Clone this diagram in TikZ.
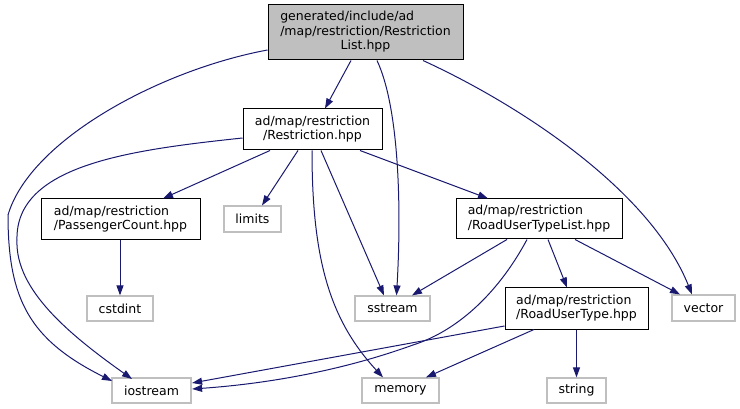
\documentclass[tikz,border=0pt]{standalone}
\usepackage{fontspec}
\setmainfont{DejaVu Sans}
\usepackage{tikz}
\usetikzlibrary{arrows.meta}
\usepackage{xcolor}
\definecolor{edgeblue}{HTML}{191970}
\definecolor{extgray}{HTML}{BFBFBF}
\newcommand{\lbl}[2]{\begin{tabular}{@{}l@{}}#1\\\multicolumn{1}{@{}c@{}}{#2}\end{tabular}}

\begin{document}
\begin{tikzpicture}[x=1pt,y=-1pt,
  every node/.style={font=\fontsize{12.5}{14.5}\selectfont,inner sep=0pt},
  hdr/.style={draw=black,line width=1pt},
  ext/.style={draw=extgray,fill=white,line width=1.2pt},
  inc/.style={draw=edgeblue,line width=1pt,-{Triangle[length=10pt,width=7pt]}}]
  \useasboundingbox (0,0) rectangle (740,409);
  % files
  \node[hdr,fill=extgray,minimum width=195,minimum height=55] (list) at (365.5,32.5)
    {\lbl{generated/include/ad\\/map/restriction/Restriction}{List.hpp}};
  \node[hdr,minimum width=139,minimum height=41] (restr) at (312.5,129.5)
    {\lbl{ad/map/restriction}{/Restriction.hpp}};
  \node[hdr,minimum width=159,minimum height=41] (pass) at (120.5,219.5)
    {\lbl{ad/map/restriction}{/PassengerCount.hpp}};
  \node[hdr,minimum width=166,minimum height=40] (rutl) at (539,219)
    {\lbl{ad/map/restriction}{/RoadUserTypeList.hpp}};
  \node[hdr,minimum width=143,minimum height=41] (rut) at (576.5,308.5)
    {\lbl{ad/map/restriction}{/RoadUserType.hpp}};
  % system headers
  \node[ext,minimum width=57,minimum height=26] (limits) at (252.5,219) {limits};
  \node[ext,minimum width=75,minimum height=25] (sstream) at (392.5,308.5) {sstream};
  \node[ext,minimum width=63,minimum height=26] (vector) at (703.5,308) {vector};
  \node[ext,minimum width=66,minimum height=25] (cstdint) at (120,308.5) {cstdint};
  \node[ext,minimum width=79,minimum height=25] (iostream) at (151.5,390.5) {iostream};
  \node[ext,minimum width=77,minimum height=25] (memory) at (400.5,390.5) {memory};
  \node[ext,minimum width=59,minimum height=25] (string) at (576.5,390.5) {string};
  % includes of the list header
  \draw[inc] ([yshift=-17.5]list.west) .. controls (160,70) and (30,140) .. (8,215)
    .. controls (8,300) and (30,340) .. ([xshift=-39.5,yshift=9.5]iostream.center);
  \draw[inc] ([xshift=-14.5]list.south) -- ([xshift=12.5]restr.north);
  \draw[inc] ([xshift=11.5]list.south) .. controls (398,105) and (402,200) .. ([xshift=4]sstream.north);
  \draw[inc] ([xshift=57.5]list.south) .. controls (520,105) and (650,190) .. ([xshift=-11.5]vector.north);
  % includes of Restriction.hpp
  \draw[inc] ([yshift=-8.5]restr.west) .. controls (130,150) and (15,165) .. (17,240)
    .. controls (15,290) and (70,335) .. ([xshift=-19.5,yshift=11.5]iostream.center);
  \draw[inc] ([xshift=-42.5]restr.south) -- ([xshift=42.5]pass.north);
  \draw[inc] ([xshift=-14.5]restr.south) -- ([xshift=9.5]limits.north);
  \draw[inc] ([xshift=-0.5]restr.south) .. controls (312,260) and (330,320) .. ([xshift=-17.5]memory.north);
  \draw[inc] ([xshift=8.5]restr.south) -- ([xshift=-8.5]sstream.north);
  \draw[inc] ([xshift=47.5]restr.south) -- ([xshift=-51]rutl.north);
  % includes of PassengerCount.hpp
  \draw[inc] ([xshift=-0.5]pass.south) -- (cstdint.north);
  % includes of RoadUserTypeList.hpp
  \draw[inc] ([xshift=-32]rutl.south) -- ([xshift=19.5]sstream.north);
  \draw[inc] ([xshift=-12]rutl.south) .. controls (500,290) and (460,330) .. (413,345)
    .. controls (330,375) and (250,385) .. ([xshift=0.5,yshift=1.5]iostream.east);
  \draw[inc] ([xshift=9]rutl.south) -- ([xshift=-9.5]rut.north);
  \draw[inc] ([xshift=36]rutl.south) -- ([xshift=-23.5]vector.north);
  % includes of RoadUserType.hpp
  \draw[inc] ([yshift=-17.5]rut.west) -- ([xshift=0.5,yshift=7.5]iostream.east);
  \draw[inc] ([xshift=-42.5]rut.south) -- ([xshift=25.5]memory.north);
  \draw[inc] (rut.south) -- (string.north);
\end{tikzpicture}
\end{document}
